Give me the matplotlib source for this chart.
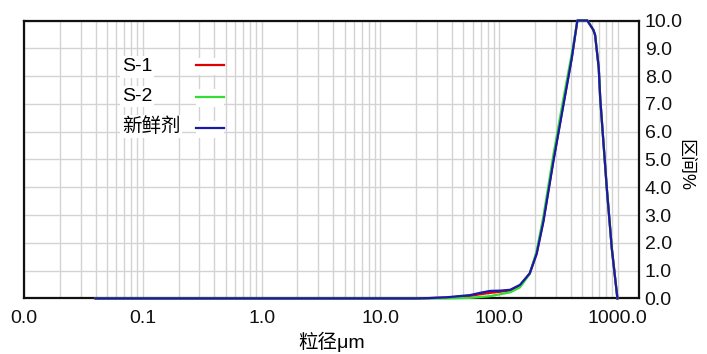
import matplotlib
matplotlib.use("Agg")
import matplotlib.pyplot as plt
import matplotlib.patches as mpatches
from matplotlib.legend_handler import HandlerTuple
from matplotlib.ticker import FixedLocator, FixedFormatter, LogLocator, NullFormatter

plt.rcParams['font.family'] = ['Liberation Sans', 'Noto Sans CJK SC', 'DejaVu Sans']

# particle size (um) and volume fraction (%)
size_fresh = [0.04, 20, 25, 36, 57, 69, 84, 102, 124, 150, 181, 207, 236,
              286, 348, 409, 456, 553, 622, 643, 690, 710, 807, 889, 991]
vol_fresh = [0.0, 0.0, 0.01, 0.04, 0.12, 0.2, 0.27, 0.28, 0.31, 0.49, 0.9,
             1.6, 2.76, 4.92, 6.96, 8.64, 10.0, 10.0, 9.66, 9.48, 8.3, 7.2,
             3.96, 1.8, 0.0]

size_s1 = [0.04, 20, 25, 36, 57, 69, 84, 102, 124, 150, 181, 207, 236,
           286, 348, 409, 456, 553, 622, 643, 690, 710, 807, 889, 991]
vol_s1 = [0.0, 0.0, 0.01, 0.03, 0.09, 0.15, 0.2, 0.24, 0.29, 0.46, 0.9,
          1.62, 2.8, 4.95, 7.0, 8.66, 10.0, 10.0, 9.66, 9.48, 8.3, 7.2,
          3.96, 1.8, 0.0]

size_s2 = [0.04, 25, 36, 57, 69, 84, 102, 124, 150, 181, 207, 236,
           286, 348, 409, 456, 553, 622, 643, 690, 710, 807, 889, 991]
vol_s2 = [0.0, 0.0, 0.0, 0.02, 0.05, 0.08, 0.15, 0.22, 0.4, 0.88, 1.7,
          2.95, 5.15, 7.2, 8.8, 10.0, 10.0, 9.66, 9.48, 8.3, 7.2,
          3.96, 1.8, 0.0]

x_ticks = [0.01, 0.1, 1, 10, 100, 1000]
x_labels = ['0.0', '0.1', '1.0', '10.0', '100.0', '1000.0']
y_ticks = [0, 1, 2, 3, 4, 5, 6, 7, 8, 9, 10]
y_labels = ['%.1f' % v for v in y_ticks]

fig = plt.figure(figsize=(7.07, 3.54), dpi=100)
ax = fig.add_axes([0.034, 0.157, 0.870, 0.785])

l1, = ax.plot(size_s1, vol_s1, color='#e00000', lw=1.6, zorder=3, clip_on=False)
l2, = ax.plot(size_s2, vol_s2, color='#33dd33', lw=1.6, zorder=3.1, clip_on=False)
l3, = ax.plot(size_fresh, vol_fresh, color='#1a1aa8', lw=1.6, zorder=3.2, clip_on=False)

ax.set_xscale('log')
ax.set_xlim(0.01, 1510)
ax.set_ylim(0, 10)

ax.xaxis.set_major_locator(FixedLocator(x_ticks))
ax.xaxis.set_major_formatter(FixedFormatter(x_labels))
ax.xaxis.set_minor_locator(LogLocator(base=10, subs=range(2, 10), numticks=20))
ax.xaxis.set_minor_formatter(NullFormatter())
ax.set_yticks(y_ticks)
ax.set_yticklabels(y_labels)

ax.yaxis.tick_right()
ax.tick_params(axis='both', which='both', length=0, labelsize=14, colors='#111111')
ax.tick_params(axis='x', pad=8)
ax.tick_params(axis='y', pad=4)

ax.grid(True, which='both', axis='x', color='#d3d3d3', lw=1.0)
ax.grid(True, which='major', axis='y', color='#d3d3d3', lw=1.0)
ax.set_axisbelow(True)

for s in ax.spines.values():
    s.set_linewidth(1.6)
    s.set_color('#111111')

ax.set_xlabel('粒径μm', fontsize=14, labelpad=4)
ax.set_ylabel('区间%', fontsize=13)
ax.yaxis.label.set_rotation(270)
ax.yaxis.label.set_ha('center')
ax.yaxis.label.set_va('center')
ax.yaxis.set_label_coords(1.074, 0.48)

# legend: labels in one block, line samples in another so the texts stay left aligned
names = ['S-1', 'S-2', '新鲜剂']
leg_text = ax.legend([l1, l2, l3], names, loc='upper left', bbox_to_anchor=(0.159, 0.866),
                     frameon=False, fontsize=14, handlelength=0, handletextpad=0,
                     labelspacing=0.62, borderpad=0, borderaxespad=0)
for h in leg_text.legend_handles:
    h.set_visible(False)
for t in leg_text.get_texts():
    t.set_bbox(dict(facecolor='white', edgecolor='none', pad=1.5))
ax.add_artist(leg_text)

blank = mpatches.Patch(facecolor='white', edgecolor='none')
ax.legend([(blank, l1), (blank, l2), (blank, l3)], ['', '', ''], loc='upper left',
          bbox_to_anchor=(0.279, 0.866), frameon=False, fontsize=14,
          handlelength=1.45, handleheight=1.0, handletextpad=0,
          labelspacing=0.62, borderpad=0, borderaxespad=0,
          handler_map={tuple: HandlerTuple(ndivide=1, pad=0)})

fig.savefig('out.png', dpi=100)
